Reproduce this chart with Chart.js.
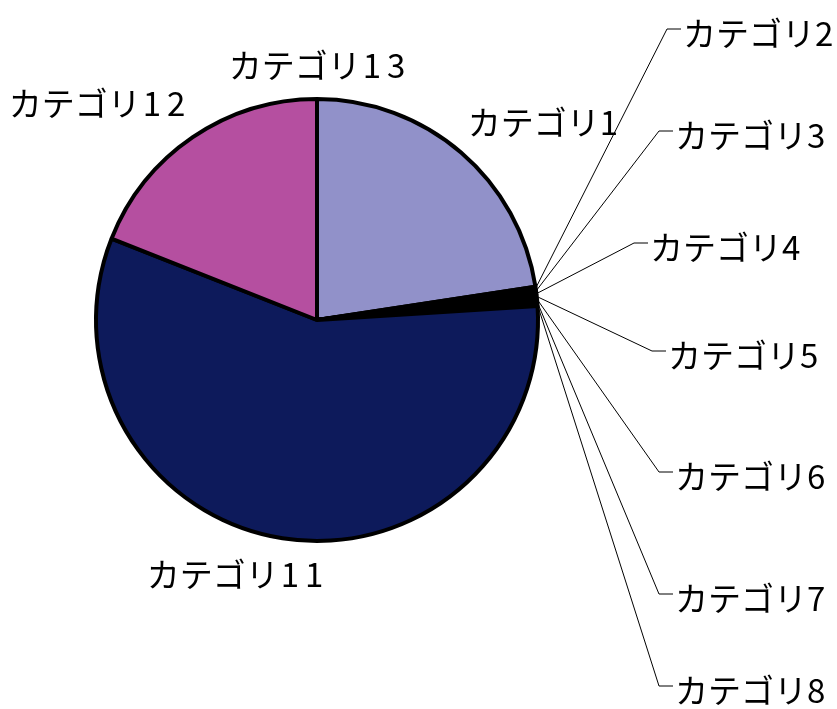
<!DOCTYPE html>
<html>
<head>
<meta charset="utf-8">
<script src="https://cdn.jsdelivr.net/npm/chart.js@4"></script>
<style>
  html, body { margin: 0; padding: 0; background: #fff; }
  #wrap { width: 837px; height: 709px; }
</style>
</head>
<body>
<div id="wrap"><canvas id="pieChart" width="837" height="709"></canvas></div>
<script>
// data (percent of the whole)
const categories = ["カテゴリ1", "カテゴリ2", "カテゴリ3", "カテゴリ4", "カテゴリ5", "カテゴリ6",
  "カテゴリ7", "カテゴリ8", "カテゴリ11", "カテゴリ12", "カテゴリ13"];
const values = [22.6, 0.2, 0.2, 0.2, 0.2, 0.2, 0.2, 0.2, 57.0, 19.0, 0];
const colors = ["#9191c9", "#1a1a1a", "#2a0a2a", "#1a1a1a", "#2a0a2a", "#1a1a1a",
  "#2a0a2a", "#1a1a1a", "#0d1a5b", "#b54fa0", "#ffffff"];

// where each label sits; "lead" labels get a leader line from their slice
const labelSpots = [
  { x: 543, y: 122 },
  { x: 683, y: 33, lead: true },
  { x: 675, y: 135, lead: true },
  { x: 650, y: 247, lead: true },
  { x: 668, y: 355, lead: true },
  { x: 675, y: 476, lead: true },
  { x: 675, y: 598, lead: true },
  { x: 675, y: 690, lead: true },
  { x: 235, y: 574 },
  { x: 97, y: 103 },
  { x: 317, y: 65 }
];

const labelPlugin = {
  id: "sliceLabels",
  afterDatasetsDraw(chart) {
    const ctx = chart.ctx;
    const arcs = chart.getDatasetMeta(0).data;
    ctx.save();
    ctx.font = "33px 'Noto Sans CJK JP'";
    ctx.fillStyle = "#000";
    ctx.textBaseline = "middle";
    arcs.forEach((arc, i) => {
      const spot = labelSpots[i];
      let txt = categories[i];
      if (spot.lead) {
        const mid = (arc.startAngle + arc.endAngle) / 2;
        const sx = arc.x + Math.cos(mid) * arc.outerRadius;
        const sy = arc.y + Math.sin(mid) * arc.outerRadius;
        ctx.strokeStyle = "#000";
        ctx.lineWidth = 1;
        ctx.beginPath();
        ctx.moveTo(sx, sy);
        ctx.lineTo(spot.x - 16, spot.y - 4);
        ctx.lineTo(spot.x - 2, spot.y - 4);
        ctx.stroke();
        ctx.textAlign = "left";
      } else {
        ctx.textAlign = "center";
      }
      // two-digit labels: spread the digits a little like the original font
      if (/\d\d$/.test(txt)) {
        const head = txt.slice(0, -2);
        const d1 = txt.slice(-2, -1), d2 = txt.slice(-1);
        const gap = 8;
        const wHead = ctx.measureText(head).width;
        const w1 = ctx.measureText(d1).width, w2 = ctx.measureText(d2).width;
        const total = wHead + w1 + gap + w2;
        let x0 = spot.x - total / 2;
        ctx.textAlign = "left";
        ctx.fillText(head, x0, spot.y);
        ctx.fillText(d1, x0 + wHead + 2, spot.y);
        ctx.fillText(d2, x0 + wHead + w1 + gap, spot.y);
      } else {
        ctx.fillText(txt, spot.x, spot.y);
      }
    });
    ctx.restore();
  }
};

new Chart(document.getElementById("pieChart"), {
  type: "pie",
  data: {
    labels: categories,
    datasets: [{
      data: values,
      backgroundColor: colors,
      borderColor: "#000",
      borderWidth: 4
    }]
  },
  options: {
    responsive: false,
    animation: false,
    layout: { padding: { left: 94, right: 297, top: 97, bottom: 166 } },
    plugins: {
      legend: { display: false },
      tooltip: { enabled: false }
    }
  },
  plugins: [labelPlugin]
});
</script>
</body>
</html>
